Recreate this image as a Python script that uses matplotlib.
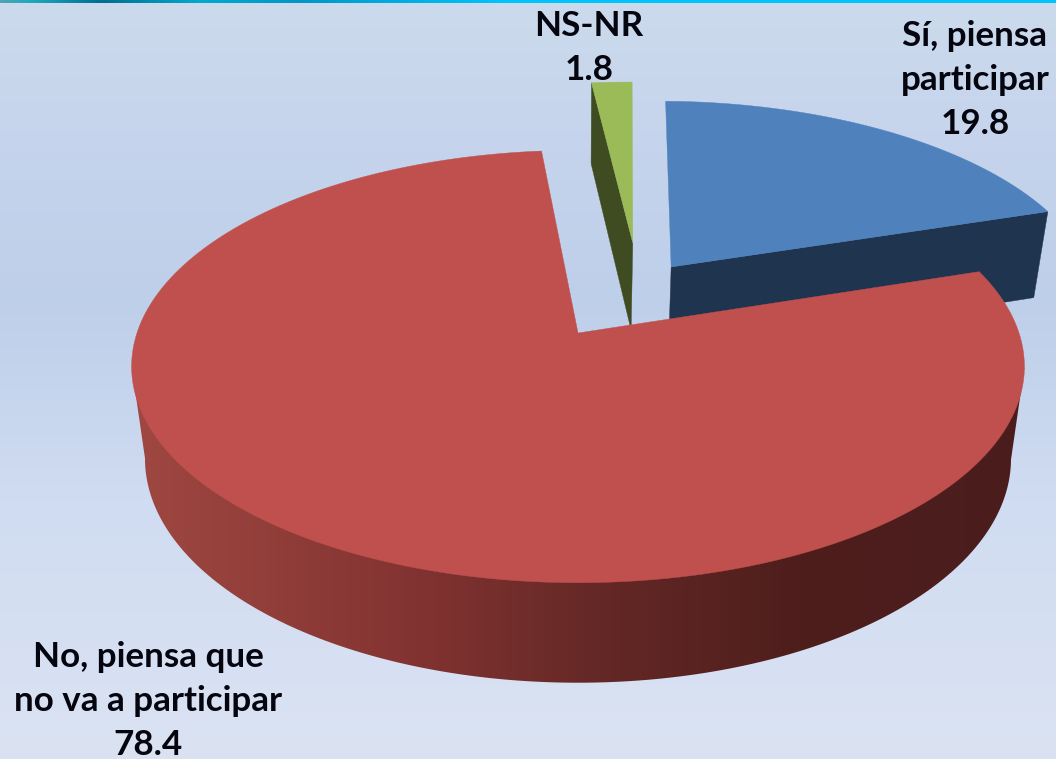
import numpy as np
import matplotlib
matplotlib.use("Agg")
import matplotlib.pyplot as plt
from matplotlib.patches import Polygon

categories = ["Sí, piensa\nparticipar", "No, piensa que\nno va a participar", "NS-NR"]
values = [19.8, 78.4, 1.8]
value_labels = ["19.8", "78.4", "1.8"]

START = 1.0
X0, Y0, A, B, K, D = 578.0, 333.0, 441.0, 211.0, 0.155, 90.8
explode = [(0.222, 0.329), (0.0, 0.0), (0.133, 0.458)]
radius = [0.995, 1.0, 1.0]
top_colors = ["#4f81bd", "#c0504d", "#9bbb59"]
side_colors = ["#1f344f", None, "#3f4c22"]
label_pos = [(975, 80), (148, 701), (589, 48)]


def proj(x, y, z=0.0):
    w = 1 + K * y
    return (X0 + A * x / w * (1 - 0.03 * z), Y0 - B * y / w + z * D / w ** 0.574)


fig = plt.figure(figsize=(10.56, 7.59), dpi=100)
ax = fig.add_axes([0, 0, 1, 1])
ax.set_xlim(0, 1056)
ax.set_ylim(759, 0)
ax.axis("off")

ys = np.arange(759)
bg = np.zeros((759, 1, 3))
for c, stops in enumerate([(204, 197, 190, 208, 219), (218, 212, 207, 220, 227), (237, 236, 234, 241, 243)]):
    bg[:, 0, c] = np.interp(ys, [3, 150, 300, 500, 758], stops) / 255
ax.imshow(bg, extent=(0, 1056, 759, 0), aspect="auto", zorder=0)

xs = np.arange(1056)
strip = np.zeros((1, 1056, 3))
sx_stops = [0, 30, 100, 200, 300, 500, 1055]
for c, stops in enumerate([(80, 30, 0, 0, 0, 0, 0), (165, 170, 110, 170, 150, 195, 195), (175, 190, 145, 205, 200, 250, 250)]):
    strip[0, :, c] = np.interp(xs, sx_stops, stops) / 255
ax.imshow(strip, extent=(0, 1056, 3, 0), aspect="auto", zorder=1)
ax.set_xlim(0, 1056)
ax.set_ylim(759, 0)

# slice angles, clockwise from the top
edges = START + np.concatenate([[0], np.cumsum(values)]) / sum(values) * 360
arcs = []
for i in range(3):
    t = np.radians(np.linspace(edges[i], edges[i + 1], 400))
    dx, dy = explode[i]
    arcs.append((dx + radius[i] * np.sin(t), dy + radius[i] * np.cos(t), dx, dy))


def add(points, color, z):
    ax.add_patch(Polygon(points, closed=True, facecolor=color, edgecolor=color, linewidth=0.3, zorder=z))


# NS-NR: left radial face, then top
x, y, dx, dy = arcs[2]
add([proj(x[0], y[0]), proj(dx, dy), proj(dx, dy, 1), proj(x[0], y[0], 1)], side_colors[2], 2)
add([proj(dx, dy)] + [proj(a, b) for a, b in zip(x, y)], top_colors[2], 3)

# Sí: front radial face, then top
x, y, dx, dy = arcs[0]
add([proj(dx, dy), proj(x[-1], y[-1]), proj(x[-1], y[-1], 1), proj(dx, dy, 1)], side_colors[0], 4)
add([proj(dx, dy)] + [proj(a, b) for a, b in zip(x, y)], top_colors[0], 5)

# No: shaded rim (near side silhouette, filled by a colour ramp), then top
x, y, dx, dy = arcs[1]
shade_x = [131, 400, 600, 800, 1020]
shade = [(160, 132, 100, 78, 74), (72, 52, 40, 30, 29), (66, 50, 38, 28, 28)]
top_pts = np.array([proj(a, b) for a, b in zip(x, y)])
bot_pts = np.array([proj(a, b, 1) for a, b in zip(x, y)])
ir, il = top_pts[:, 0].argmax(), top_pts[:, 0].argmin()
ibr, ibl = bot_pts[:, 0].argmax(), bot_pts[:, 0].argmin()
outline = np.vstack([top_pts[ir], bot_pts[ibr:ibl + 1], top_pts[il]])
rim = Polygon(outline, closed=True, facecolor="none", edgecolor="none")
ax.add_patch(rim)
ramp = np.zeros((1, 1056, 3))
for c in range(3):
    ramp[0, :, c] = np.interp(xs, shade_x, shade[c]) / 255
im = ax.imshow(ramp, extent=(0, 1056, 759, 0), aspect="auto", zorder=6)
im.set_clip_path(rim)
ax.set_xlim(0, 1056)
ax.set_ylim(759, 0)
add([proj(dx, dy)] + [proj(a, b) for a, b in zip(x, y)], top_colors[1], 7)

for name, val, (lx, ly) in zip(categories, value_labels, label_pos):
    ax.text(lx, ly, name + "\n" + val, ha="center", va="center", family="Lato", weight="bold",
            fontsize=25.2, color="#050510", linespacing=1.46, zorder=10)

fig.savefig("out.png", dpi=100)
